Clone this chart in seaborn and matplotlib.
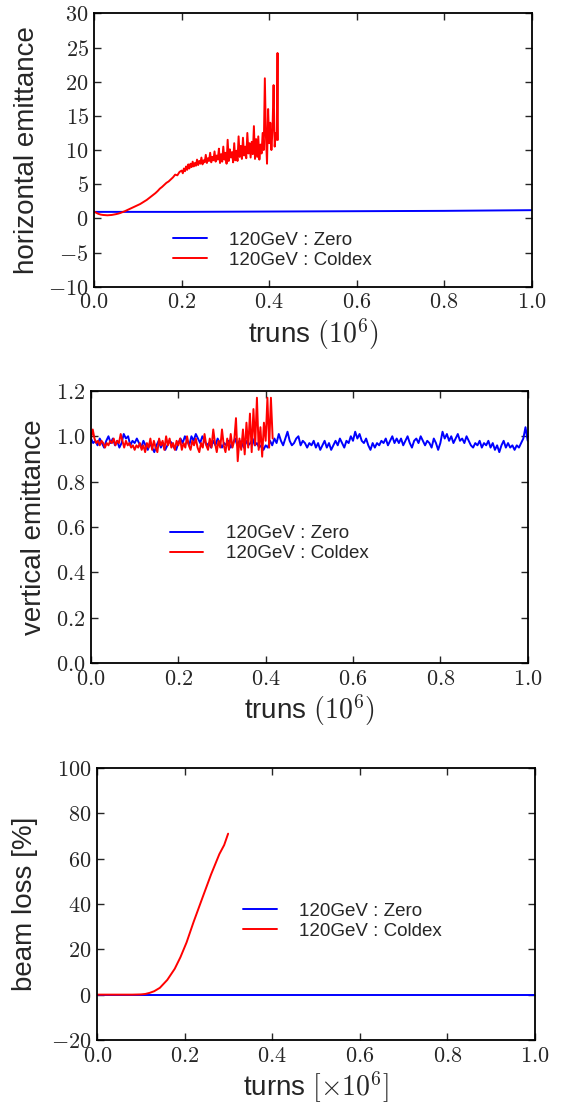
import numpy as np
import pandas as pd
import matplotlib
matplotlib.use("Agg")
import matplotlib.pyplot as plt
from matplotlib.ticker import FuncFormatter, MultipleLocator
import seaborn as sns

# horizontal emittance
h_zero_turns = [0.0, 0.2, 0.4, 0.6, 0.8, 1.0]
h_zero_emit = [0.95, 0.95, 1.0, 1.05, 1.1, 1.2]

# coldex: every 0.005e6 turns up to 0.2, then every 0.0025e6 turns
h_coldex_turns = np.concatenate([np.arange(40) * 0.005,
                                 0.2 + np.arange(88) * 0.0025,
                                 [0.419, 0.420]])
h_coldex_emit = [
    1.0, 0.8, 0.65, 0.55, 0.5, 0.47, 0.45, 0.47, 0.5, 0.56,
    0.62, 0.7, 0.8, 0.92, 1.05, 1.2, 1.35, 1.5, 1.65, 1.8,
    1.95, 2.1, 2.3, 2.5, 2.7, 2.95, 3.2, 3.45, 3.7, 4.0,
    4.35, 4.6, 4.9, 5.2, 5.4, 5.7, 6.0, 6.4, 6.3, 6.8,
    7.0, 6.6, 7.3, 6.9, 7.6, 7.1, 7.9, 7.3,
    8.0, 7.5, 8.3, 7.6, 8.1, 7.7, 8.6, 7.8,
    8.4, 8.0, 8.9, 7.9, 8.5, 8.2, 9.3, 8.1,
    8.8, 8.4, 9.6, 8.2, 9.0, 8.5, 9.8, 8.3,
    9.2, 8.6, 10.2, 8.1, 9.4, 8.3, 10.5, 8.6,
    9.6, 8.0, 11.5, 8.4, 10.1, 8.9, 9.7, 8.2,
    11.0, 8.5, 9.9, 8.4, 12.0, 9.0, 10.6, 8.7,
    11.8, 9.2, 10.5, 8.8, 12.5, 9.5, 11.0, 8.9,
    11.2, 9.4, 13.5, 8.7, 11.6, 9.0, 12.0, 8.6,
    10.8, 9.5, 12.5, 10.0, 20.5, 12.0, 8.0, 16.0,
    11.0, 14.0, 10.0, 13.0, 19.5, 10.5, 12.5, 11.5,
    24.2, 11.5,
]

# vertical emittance, sampled every 0.005e6 turns (zero) / 0.004e6 turns (coldex)
v_zero_emit = [
    0.99, 0.97, 0.98, 0.96, 0.99, 0.97, 0.95, 0.98, 1.00, 0.97, 0.99,
    0.96, 0.98, 0.95, 0.97, 1.01, 0.99, 1.00, 0.96, 0.98, 0.97,
    0.99, 0.97, 0.95, 0.98, 0.96, 0.94, 0.97, 0.95, 0.93, 0.96,
    0.98, 0.95, 0.97, 0.94, 0.96, 0.98, 0.97, 0.95, 0.94, 0.97,
    0.99, 0.97, 1.00, 0.98, 0.96, 1.00, 0.98, 1.01, 0.99, 0.97,
    1.00, 0.98, 0.96, 0.97, 0.95, 0.98, 0.96, 0.99, 0.97, 0.95,
    0.97, 0.96, 0.98, 0.95, 0.97, 0.99, 0.96, 0.98, 0.97, 0.95,
    0.98, 0.96, 0.97, 0.99, 0.96, 0.97, 0.95, 0.96, 0.94, 0.96,
    0.95, 0.98, 0.96, 0.99, 0.97, 1.01, 0.98, 0.96, 0.99, 1.02,
    0.98, 0.96, 0.97, 0.99, 1.00, 0.96, 0.98, 0.97, 0.95, 0.97,
    0.96, 0.98, 0.95, 0.97, 0.94, 0.96, 0.98, 0.95, 0.97, 0.94,
    0.96, 0.98, 0.96, 0.99, 0.97, 0.95, 0.98, 0.97, 1.00, 0.98,
    1.02, 0.99, 1.01, 0.98, 0.97, 0.99, 0.96, 0.94, 0.97, 0.95,
    0.97, 0.96, 0.98, 0.97, 0.99, 0.96, 0.98, 1.00, 0.97, 0.99,
    0.97, 0.99, 0.96, 0.98, 1.00, 0.97, 0.95, 0.98, 0.99, 0.97,
    1.00, 0.98, 0.96, 0.98, 0.97, 0.95, 0.99, 0.97, 0.94, 0.97,
    1.02, 0.99, 1.01, 0.98, 1.00, 0.97, 0.99, 1.01, 0.98, 0.99,
    0.97, 1.00, 0.98, 0.96, 0.95, 0.97, 0.96, 0.98, 0.95, 0.97,
    0.96, 0.98, 0.95, 0.97, 0.94, 0.96, 0.93, 0.96, 0.98, 0.95,
    0.97, 0.95, 0.96, 0.94, 0.96, 0.95, 0.97, 0.99, 1.04, 0.98,
]
v_coldex_emit = [
    0.99, 1.03, 0.99, 0.97, 0.98, 0.96, 0.98, 0.97, 0.95, 0.97, 0.96, 0.98, 0.97,
    0.99, 0.96, 0.98, 0.97, 1.01, 0.98, 0.95, 0.98, 0.96, 0.97, 0.95, 0.96, 0.94,
    0.96, 0.95, 0.97, 0.94, 0.96, 0.93, 0.97, 0.95, 0.99, 0.94, 0.98, 0.95, 0.93,
    0.99, 0.96, 0.98, 0.94, 1.00, 0.96, 0.99, 0.95, 0.97, 0.94, 0.98, 0.96,
    0.99, 0.94, 0.97, 0.95, 1.00, 0.96, 0.94, 0.98, 0.96, 0.99, 0.95, 0.93, 0.97,
    0.95, 1.01, 0.96, 0.94, 0.99, 0.95, 1.03, 0.97, 0.93, 0.98, 0.95, 1.03,
    0.96, 0.93, 0.99, 0.94, 1.01, 0.95, 0.98, 1.08, 0.89, 0.99, 0.94, 1.03, 0.92,
    1.06, 0.95, 1.10, 0.93, 1.12, 0.96, 1.17, 0.94, 1.04, 0.91, 1.06, 0.98,
    1.17, 0.95, 1.17, 0.99,
]
v_zero_turns = np.arange(len(v_zero_emit)) * 0.005
v_coldex_turns = np.arange(len(v_coldex_emit)) * 0.004

# beam loss
loss_zero_turns = [0.0, 1.0]
loss_zero = [0.0, 0.0]
loss_coldex_turns = [0.0, 0.08, 0.10, 0.11, 0.12, 0.13, 0.143, 0.16, 0.177,
                     0.19, 0.204, 0.22, 0.242, 0.26, 0.279, 0.29, 0.299]
loss_coldex = [0.0, 0.0, 0.1, 0.3, 0.8, 1.5, 3.0, 6.5, 11.4,
               16.5, 23.0, 32.0, 43.6, 53.0, 62.0, 66.0, 71.0]

label_zero = "120GeV : Zero"
label_coldex = "120GeV : Coldex"

sns.set_style("ticks")
plt.rcParams["font.family"] = ["Liberation Sans", "DejaVu Sans"]
plt.rcParams["mathtext.fontset"] = "cm"

fig = plt.figure(figsize=(5.61, 11.04), dpi=100)
ax1 = fig.add_axes([0.168, 0.7403, 0.7797, 0.2476])
ax2 = fig.add_axes([0.1622, 0.3995, 0.7784, 0.2464])
ax3 = fig.add_axes([0.1734, 0.058, 0.780, 0.2464])


def draw(ax, xz, yz, xc, yc):
    sns.lineplot(x=xz, y=yz, color="blue", lw=1.4, label=label_zero, ax=ax,
                 estimator=None, sort=False)
    sns.lineplot(x=xc, y=yc, color="red", lw=1.4, label=label_coldex, ax=ax,
                 estimator=None, sort=False)


draw(ax1, h_zero_turns, h_zero_emit, h_coldex_turns, h_coldex_emit)
draw(ax2, v_zero_turns, v_zero_emit, v_coldex_turns, v_coldex_emit)
draw(ax3, loss_zero_turns, loss_zero, loss_coldex_turns, loss_coldex)

fmt1 = FuncFormatter(lambda v, p: f"${v:.1f}$")
fmt0 = FuncFormatter(lambda v, p: f"${v:.0f}$")

ax1.set_ylim(-10, 30)
ax1.yaxis.set_major_locator(MultipleLocator(5))
ax1.yaxis.set_major_formatter(fmt0)
ax2.set_ylim(0, 1.2)
ax2.yaxis.set_major_locator(MultipleLocator(0.2))
ax2.yaxis.set_major_formatter(fmt1)
ax3.set_ylim(-20, 100)
ax3.yaxis.set_major_locator(MultipleLocator(20))
ax3.yaxis.set_major_formatter(fmt0)

for ax in (ax1, ax2, ax3):
    ax.set_xlim(0, 1)
    ax.xaxis.set_major_locator(MultipleLocator(0.2))
    ax.xaxis.set_major_formatter(fmt1)
    ax.tick_params(direction="in", top=True, right=True, length=5, width=1,
                   labelsize=16, pad=4)
    for s in ax.spines.values():
        s.set_linewidth(1.3)
        s.set_color("black")

ax1.set_xlabel(r"truns $(10^6)$", fontsize=20, labelpad=2)
ax1.set_ylabel("horizontal emittance", fontsize=20)
ax1.yaxis.set_label_coords(-0.124, 0.5)
ax2.set_xlabel(r"truns $(10^6)$", fontsize=20, labelpad=2)
ax2.set_ylabel("vertical emittance", fontsize=20)
ax2.yaxis.set_label_coords(-0.101, 0.5)
ax3.set_xlabel(r"turns $[\times10^6]$", fontsize=20, labelpad=2)
ax3.set_ylabel("beam loss [%]", fontsize=20)
ax3.yaxis.set_label_coords(-0.135, 0.5)

leg_kw = dict(loc="lower left", frameon=False, fontsize=13.5, borderpad=0,
              borderaxespad=0, handlelength=1.8, handletextpad=1.2,
              labelspacing=0.15)
ax1.legend(bbox_to_anchor=(0.18, 0.065), **leg_kw)
ax2.legend(bbox_to_anchor=(0.18, 0.37), **leg_kw)
ax3.legend(bbox_to_anchor=(0.333, 0.368), **leg_kw)

fig.savefig("out.png", dpi=100)
